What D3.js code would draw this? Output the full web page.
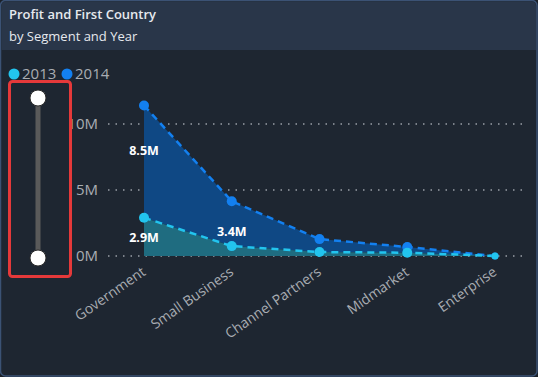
<!DOCTYPE html>
<html>
<head>
<meta charset="utf-8">
<script src="https://cdn.jsdelivr.net/npm/d3@7"></script>
<style>
  html, body { margin: 0; padding: 0; background: #1b2129; }
  svg { display: block; font-family: "Segoe UI", "Open Sans", "DejaVu Sans", sans-serif; }
</style>
</head>
<body>
<svg id="chart" width="538" height="377"></svg>
<script>
  const segments = ["Government", "Small Business", "Channel Partners", "Midmarket", "Enterprise"];
  const years = ["2013", "2014"];
  const profit2013 = [2.9, 0.75, 0.3, 0.25, 0.0];
  const profit2014 = [8.5, 3.4, 0.98, 0.43, 0.0];
  const yTicks = [0, 5, 10];
  const labelled = [0, 1]; // segments that show data labels

  const colors = { "2013": "#22c4ee", "2014": "#1380f0" };
  const fills = { "2013": "#1f6c80", "2014": "#0f4884" };

  const svg = d3.select("#chart");
  const W = +svg.attr("width"), H = +svg.attr("height");

  // card
  svg.append("rect")
    .attr("x", 0.5).attr("y", 0.5).attr("width", W - 1.5).attr("height", H - 1.5)
    .attr("rx", 5).attr("fill", "#1e2631").attr("stroke", "#3b5274").attr("stroke-width", 1.5);
  svg.append("path")
    .attr("d", `M1.5,50 V6 Q1.5,1.5 6,1.5 H${W - 7} Q${W - 2},1.5 ${W - 2},6 V50 Z`)
    .attr("fill", "#293649");

  svg.append("text").attr("x", 9).attr("y", 19)
    .attr("fill", "#e6e9ee").attr("font-size", 13).attr("font-weight", 600)
    .text("Profit and First Country");
  svg.append("text").attr("x", 9).attr("y", 41)
    .attr("fill", "#e6e9ee").attr("font-size", 13)
    .text("by Segment and Year");

  // scales
  const x = d3.scalePoint().domain(segments).range([144, 495]);
  const y = d3.scaleLinear().domain([0, 10]).range([256, 124]);

  const data = segments.map((s, i) => ({ seg: s, a: profit2013[i], b: profit2014[i] }));

  // gridlines + y labels
  const grid = svg.append("g");
  yTicks.forEach(t => {
    grid.append("line")
      .attr("x1", 108).attr("x2", 527).attr("y1", y(t)).attr("y2", y(t))
      .attr("stroke", "#9aa0a8").attr("stroke-width", 1.5).attr("stroke-dasharray", "1.5,6");
    grid.append("text")
      .attr("x", 98).attr("y", y(t)).attr("dy", "0.35em")
      .attr("text-anchor", "end").attr("fill", "#a9adb3").attr("font-size", 15)
      .text(t + "M");
  });

  // stacked areas
  const area13 = d3.area().x(d => x(d.seg)).y0(y(0)).y1(d => y(d.a));
  const area14 = d3.area().x(d => x(d.seg)).y0(d => y(d.a)).y1(d => y(d.a + d.b));
  svg.append("path").datum(data).attr("d", area14).attr("fill", fills["2014"]);
  svg.append("path").datum(data).attr("d", area13).attr("fill", fills["2013"]);

  const line14 = d3.line().x(d => x(d.seg)).y(d => y(d.a + d.b));
  const line13 = d3.line().x(d => x(d.seg)).y(d => y(d.a));
  svg.append("path").datum(data).attr("d", line14).attr("fill", "none")
    .attr("stroke", colors["2014"]).attr("stroke-width", 2.5).attr("stroke-dasharray", "7,5");
  svg.append("path").datum(data).attr("d", line13).attr("fill", "none")
    .attr("stroke", colors["2013"]).attr("stroke-width", 2.5).attr("stroke-dasharray", "7,5");

  svg.selectAll(".p14").data(data).enter().append("circle")
    .attr("cx", d => x(d.seg)).attr("cy", d => y(d.a + d.b))
    .attr("r", (d, i) => i === 4 ? 3.5 : 5).attr("fill", colors["2014"]);
  svg.selectAll(".p13").data(data).enter().append("circle")
    .attr("cx", d => x(d.seg)).attr("cy", d => y(d.a))
    .attr("r", (d, i) => i === 4 ? 3.5 : 5).attr("fill", colors["2013"]);

  // data labels
  labelled.forEach(i => {
    const d = data[i];
    svg.append("text")
      .attr("x", x(d.seg)).attr("y", y(d.a + d.b / 2) + (i === 0 ? -11 : 8))
      .attr("text-anchor", "middle").attr("dy", "0.35em")
      .attr("fill", "#ffffff").attr("font-size", 12.5).attr("font-weight", 700)
      .text(d.b.toFixed(1) + "M");
    if (i === 0) {
      svg.append("text")
        .attr("x", x(d.seg)).attr("y", y(d.a) + 20)
        .attr("text-anchor", "middle").attr("dy", "0.35em")
        .attr("fill", "#ffffff").attr("font-size", 12.5).attr("font-weight", 700)
        .text(d.a.toFixed(1) + "M");
    }
  });

  // x labels
  segments.forEach(s => {
    svg.append("text")
      .attr("transform", `translate(${x(s) - 3},${y(0) + 10}) rotate(-35)`)
      .attr("text-anchor", "end").attr("dy", "0.7em")
      .attr("fill", "#a9adb3").attr("font-size", 14)
      .text(s);
  });

  // legend
  years.forEach((yr, i) => {
    const lx = 14 + i * 53;
    svg.append("circle").attr("cx", lx).attr("cy", 74).attr("r", 5.5).attr("fill", colors[yr]);
    svg.append("text").attr("x", lx + 8).attr("y", 74).attr("dy", "0.35em")
      .attr("fill", "#a9adb3").attr("font-size", 15).text(yr);
  });

  // slider
  svg.append("rect")
    .attr("x", 9.5).attr("y", 81.5).attr("width", 61).attr("height", 195).attr("rx", 3)
    .attr("fill", "#1e2631").attr("stroke", "#e5393a").attr("stroke-width", 3);
  svg.append("line")
    .attr("x1", 38).attr("x2", 38).attr("y1", 98).attr("y2", 258)
    .attr("stroke", "#5a5a5a").attr("stroke-width", 5);
  [98, 258].forEach(cy => {
    svg.append("circle").attr("cx", 38).attr("cy", cy).attr("r", 8)
      .attr("fill", "#ffffff").attr("stroke", "#2a2a2a").attr("stroke-width", 1);
  });
</script>
</body>
</html>
